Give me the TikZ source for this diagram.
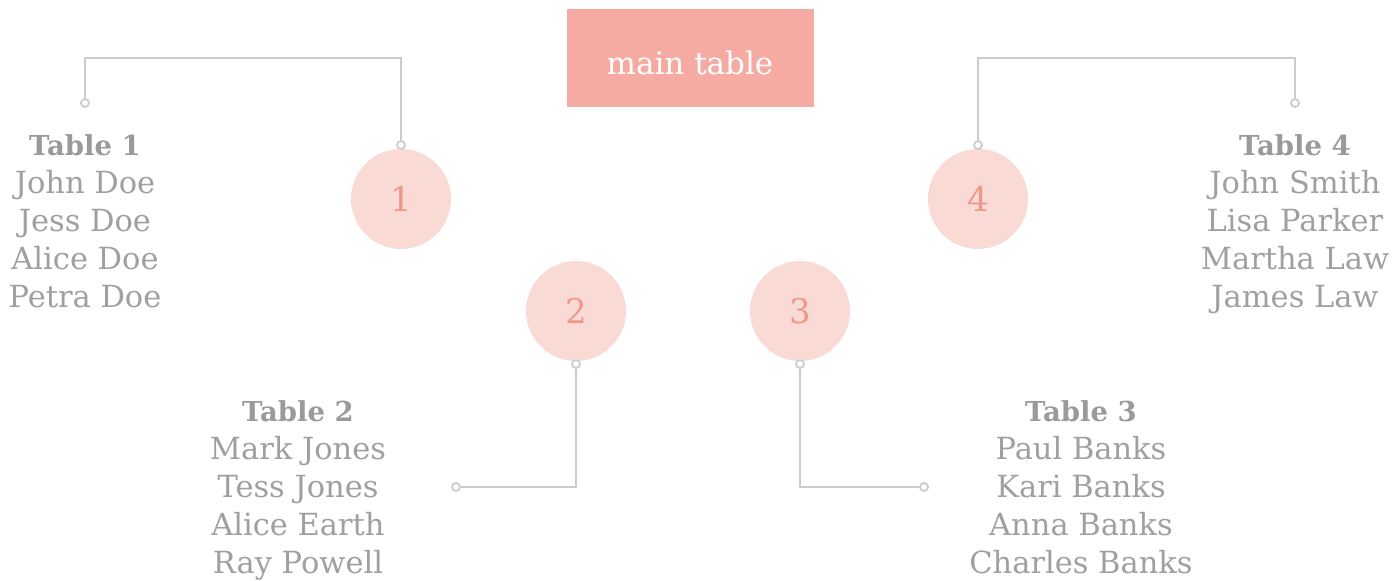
\documentclass[tikz,border=0pt]{standalone}
\usepackage{fontspec}
\setmainfont{DejaVu Serif}
\definecolor{linegray}{HTML}{CCCCCC}
\definecolor{txtgray}{HTML}{A0A0A0}
\definecolor{boldgray}{HTML}{9A9A9A}
\definecolor{mainfill}{HTML}{F5ABA2}
\definecolor{circfill}{HTML}{FADAD5}
\definecolor{numcol}{HTML}{F0978A}
\newcommand{\ttlfont}{\fontsize{27.5}{38}\selectfont\bfseries\color{boldgray}}
\begin{document}
\begin{tikzpicture}[x=1pt,y=-1pt,
  tablecirc/.style={circle,fill=circfill,minimum size=100pt,inner sep=0pt,text=numcol,font=\fontsize{34}{40}\selectfont},
  dot/.style={circle,draw=linegray,fill=white,line width=1.8pt,minimum size=8pt,inner sep=0pt},
  conn/.style={draw=linegray,line width=2.2pt},
  guests/.style={align=center,anchor=north,inner sep=0pt,text=txtgray,font=\fontsize{30.5}{38}\selectfont},
]
\useasboundingbox (0,0) rectangle (1393,581);
\fill[white] (0,0) rectangle (1393,581);
% main table
\node[fill=mainfill,minimum width=247pt,minimum height=98pt,inner sep=0pt,text=white,text height=33pt,text depth=0pt,font=\fontsize{31}{36}\selectfont] (main) at (690,58) {main table};
% circles
\node[tablecirc] (c1) at (401,199) {1};
\node[tablecirc] (c2) at (576,311) {2};
\node[tablecirc] (c3) at (800,311) {3};
\node[tablecirc] (c4) at (978,199) {4};
% corner coordinates
\coordinate (k1) at (243,58);
\coordinate (k4) at (1136,58);
\coordinate (k2) at (516,487);
\coordinate (k3) at (862,487);
% dots
\node[dot] (d1a) at (401,145) {};
\node[dot] (d1b) at (85,103) {};
\node[dot] (d4a) at (978,145) {};
\node[dot] (d4b) at (1295,103) {};
\node[dot] (d2a) at (576,364) {};
\node[dot] (d2b) at (456,487) {};
\node[dot] (d3a) at (800,364) {};
\node[dot] (d3b) at (924,487) {};
% connectors
\draw[conn] (d1a) |- (k1) -| (d1b);
\draw[conn] (d4a) |- (k4) -| (d4b);
\draw[conn] (d2a) |- (k2) -- (d2b);
\draw[conn] (d3a) |- (k3) -- (d3b);
% guest lists
\node[guests] (t1) at (85,134) {{\ttlfont Table 1}\\John Doe\\Jess Doe\\Alice Doe\\Petra Doe};
\node[guests] (t4) at (1295,134) {{\ttlfont Table 4}\\John Smith\\Lisa Parker\\Martha Law\\James Law};
\node[guests] (t2) at (298,400) {{\ttlfont Table 2}\\Mark Jones\\Tess Jones\\Alice Earth\\Ray Powell};
\node[guests] (t3) at (1081,400) {{\ttlfont Table 3}\\Paul Banks\\Kari Banks\\Anna Banks\\Charles Banks};
\end{tikzpicture}
\end{document}
